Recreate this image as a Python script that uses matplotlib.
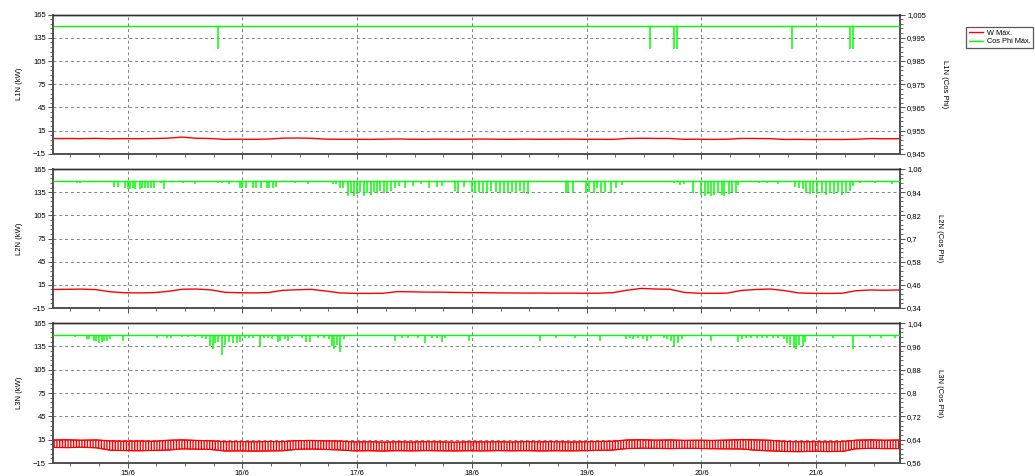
import numpy as np
import matplotlib
matplotlib.use("Agg")
import matplotlib.pyplot as plt
from matplotlib.ticker import AutoMinorLocator, MultipleLocator

plt.rcParams.update({"font.family": ["Liberation Sans", "DejaVu Sans"], "font.size": 5.5})

# time axis: days since 15/6 00:00
T_START, T_END = -0.65, 6.73
day_ticks = [0, 1, 2, 3, 4, 5, 6]
day_labels = ["15/6", "16/6", "17/6", "18/6", "19/6", "20/6", "21/6"]

# red series sampled every 3 h from T_START
t_grid = T_START + 0.125 * np.arange(60)

w_l1 = [4.9, 5.0, 4.8, 5.2, 4.6, 4.9, 4.7, 5.0, 5.4, 6.8, 5.3, 5.0, 3.8, 4.1, 3.9,
        4.3, 5.4, 5.6, 5.3, 4.2, 3.9, 4.0, 3.8, 4.1, 4.4, 4.0, 3.9, 4.2, 3.9, 4.1,
        4.3, 4.0, 3.9, 4.2, 3.9, 4.0, 4.2, 3.9, 4.0, 3.8, 5.0, 5.3, 5.1, 5.0, 3.9,
        4.1, 3.8, 4.0, 5.1, 5.0, 4.8, 3.7, 3.9, 3.6, 3.8, 3.7, 4.0, 4.9, 4.6, 4.8]

w_l2 = [9.0, 9.2, 9.5, 8.8, 6.0, 4.8, 4.6, 4.9, 6.5, 9.3, 9.6, 8.5, 5.3, 4.8, 4.6,
        5.0, 7.9, 8.6, 9.2, 7.0, 4.6, 4.0, 3.9, 4.1, 6.2, 6.0, 5.6, 5.5, 5.2, 5.0,
        4.9, 4.6, 4.5, 4.3, 4.4, 4.2, 4.3, 4.1, 4.2, 4.8, 8.0, 10.4, 9.6, 9.3, 5.2,
        4.2, 4.0, 4.3, 7.8, 9.0, 9.6, 7.5, 4.5, 4.0, 3.9, 4.1, 7.5, 8.3, 8.0, 8.4]

# L3N power switches fast: upper / lower envelope
w_l3_hi = [14.6, 14.9, 14.3, 14.7, 13.4, 13.0, 13.3, 12.9, 14.2, 14.8, 14.0, 13.6,
           12.4, 12.6, 12.2, 12.7, 12.5, 13.8, 14.0, 13.5, 13.2, 12.1, 12.4, 11.9,
           12.3, 12.0, 12.5, 12.2, 11.8, 12.3, 12.1, 12.4, 12.0, 12.6, 12.2, 12.5,
           12.0, 12.3, 12.7, 13.0, 14.6, 15.0, 14.4, 14.7, 14.1, 14.3, 14.0, 14.5,
           15.2, 14.8, 14.2, 12.8, 12.3, 12.5, 12.2, 12.6, 14.4, 14.8, 14.3, 14.6]
w_l3_lo = [5.0, 4.8, 5.2, 4.6, 1.4, 1.0, 0.8, 1.2, 1.6, 3.2, 2.8, 2.4, 0.4, 0.6, 0.2,
           0.5, 0.8, 2.6, 2.9, 2.4, 1.8, 0.6, 0.8, 0.4, 0.9, 0.6, 1.0, 0.7, 0.5, 0.8,
           0.6, 1.0, 0.7, 0.9, 0.5, 0.8, 0.6, 0.9, 1.2, 1.6, 3.6, 4.0, 3.8, 3.5, 3.9,
           3.7, 3.4, 3.2, 3.0, 1.4, 0.6, -0.2, -0.4, 0.0, -0.3, -0.1, 3.4, 3.8, 3.5, 3.6]

# cos phi: steady at 1.0 with short dips (time in days, dip value)
cos_base = 1.0
dip1_t = [0.788, 4.552, 4.764, 4.783, 5.788, 6.297, 6.316]
dip1_v = [0.990, 0.990, 0.990, 0.990, 0.990, 0.990, 0.990]

dip2_t = [-0.439, -0.415, -0.118, -0.085, -0.024, 0.000, 0.024, 0.047, 0.066, 0.104,
          0.127, 0.151, 0.175, 0.208, 0.231, 0.292, 0.316, 0.481, 0.585, 0.788,
          0.821, 0.882, 0.976, 1.000, 1.028, 1.094, 1.118, 1.165, 1.212, 1.236,
          1.269, 1.297, 1.458, 1.575, 1.792, 1.816, 1.849, 1.877, 1.920, 1.943,
          1.976, 2.000, 2.028, 2.061, 2.085, 2.118, 2.146, 2.170, 2.203, 2.236,
          2.264, 2.297, 2.330, 2.368, 2.415, 2.486, 2.557, 2.627, 2.698, 2.736,
          2.849, 2.877, 2.934, 3.005, 3.028, 3.061, 3.099, 3.132, 3.170, 3.208,
          3.245, 3.278, 3.311, 3.349, 3.387, 3.420, 3.453, 3.491, 3.821, 3.840,
          3.877, 3.995, 4.019, 4.066, 4.090, 4.123, 4.160, 4.208, 4.255, 4.311,
          4.764, 4.811, 4.844, 4.925, 5.000, 5.033, 5.057, 5.080, 5.113, 5.142,
          5.175, 5.198, 5.236, 5.269, 5.302, 5.316, 5.505, 5.575, 5.670, 5.811,
          5.849, 5.882, 5.915, 5.943, 5.976, 6.009, 6.047, 6.085, 6.118, 6.151,
          6.189, 6.226, 6.259, 6.292, 6.321, 6.377, 6.509, 6.660]
dip2_v = [0.986, 0.986, 0.969, 0.969, 0.960, 0.957, 0.957, 0.960, 0.957, 0.955,
          0.960, 0.962, 0.960, 0.962, 0.964, 0.986, 0.958, 0.986, 0.981, 0.986,
          0.986, 0.981, 0.962, 0.960, 0.964, 0.960, 0.960, 0.962, 0.960, 0.962,
          0.964, 0.965, 0.986, 0.981, 0.981, 0.981, 0.962, 0.960, 0.920, 0.935,
          0.918, 0.930, 0.940, 0.920, 0.935, 0.925, 0.940, 0.935, 0.945, 0.935,
          0.940, 0.945, 0.960, 0.970, 0.962, 0.970, 0.981, 0.960, 0.965, 0.970,
          0.945, 0.943, 0.965, 0.940, 0.935, 0.943, 0.938, 0.940, 0.945, 0.940,
          0.935, 0.940, 0.935, 0.940, 0.935, 0.945, 0.935, 0.930, 0.935, 0.940,
          0.935, 0.935, 0.940, 0.935, 0.960, 0.935, 0.940, 0.935, 0.960, 0.975,
          0.986, 0.975, 0.981, 0.935, 0.925, 0.918, 0.930, 0.918, 0.925, 0.935,
          0.925, 0.918, 0.930, 0.940, 0.935, 0.975, 0.986, 0.986, 0.981, 0.965,
          0.960, 0.955, 0.935, 0.930, 0.935, 0.930, 0.935, 0.928, 0.935, 0.930,
          0.940, 0.925, 0.935, 0.945, 0.970, 0.986, 0.986, 0.981]

dip3_t = [-0.462, -0.358, -0.340, -0.297, -0.274, -0.250, -0.226, -0.203, -0.179, -0.156,
          -0.038, 0.255, 0.340, 0.377, 0.472, 0.528, 0.585, 0.646, 0.684, 0.717,
          0.741, 0.764, 0.788, 0.821, 0.849, 0.882, 0.915, 0.953, 0.976, 1.024,
          1.057, 1.094, 1.151, 1.189, 1.226, 1.259, 1.307, 1.330, 1.368, 1.401,
          1.434, 1.519, 1.557, 1.590, 1.660, 1.708, 1.755, 1.778, 1.802, 1.825,
          1.849, 1.882, 2.330, 2.392, 2.439, 2.533, 2.594, 2.651, 2.698, 2.736,
          2.769, 2.972, 3.594, 3.736, 3.901, 4.113, 4.340, 4.373, 4.406, 4.443,
          4.491, 4.528, 4.561, 4.670, 4.703, 4.736, 4.764, 4.797, 4.830, 5.080,
          5.316, 5.349, 5.387, 5.434, 5.481, 5.528, 5.575, 5.623, 5.670, 5.717,
          5.745, 5.774, 5.802, 5.821, 5.849, 5.882, 5.906, 6.142, 6.321, 6.472,
          6.566, 6.684]
dip3_v = [0.991, 0.985, 0.985, 0.980, 0.977, 0.972, 0.975, 0.980, 0.978, 0.985,
          0.977, 0.988, 0.988, 0.990, 0.991, 0.991, 0.991, 0.990, 0.985, 0.962,
          0.952, 0.970, 0.975, 0.930, 0.965, 0.975, 0.970, 0.970, 0.975, 0.990,
          0.990, 0.988, 0.960, 0.990, 0.988, 0.985, 0.975, 0.980, 0.985, 0.980,
          0.988, 0.990, 0.975, 0.975, 0.990, 0.990, 0.985, 0.960, 0.950, 0.965,
          0.940, 0.985, 0.977, 0.990, 0.990, 0.990, 0.972, 0.990, 0.990, 0.975,
          0.990, 0.978, 0.978, 0.990, 0.990, 0.978, 0.985, 0.990, 0.985, 0.988,
          0.985, 0.978, 0.990, 0.990, 0.985, 0.978, 0.962, 0.970, 0.985, 0.978,
          0.975, 0.985, 0.990, 0.990, 0.990, 0.990, 0.990, 0.990, 0.988, 0.985,
          0.970, 0.965, 0.955, 0.950, 0.965, 0.960, 0.975, 0.990, 0.950, 0.990,
          0.990, 0.990]

kw_ticks = [-15, 15, 45, 75, 105, 135, 165]
cos1_ticks = [0.945, 0.955, 0.965, 0.975, 0.985, 0.995, 1.005]
cos2_ticks = [0.34, 0.46, 0.58, 0.70, 0.82, 0.94, 1.06]
cos3_ticks = [0.56, 0.64, 0.72, 0.80, 0.88, 0.96, 1.04]
cos1_labels = ["0,945", "0,955", "0,965", "0,975", "0,985", "0,995", "1,005"]
cos2_labels = ["0,34", "0,46", "0,58", "0,7", "0,82", "0,94", "1,06"]
cos3_labels = ["0,56", "0,64", "0,72", "0,8", "0,88", "0,96", "1,04"]

RED = "#ff0000"
GREEN = "#00ff00"
SPINE = "#505050"

fig = plt.figure(figsize=(10.35, 4.76), dpi=100)
boxes = [(0.0512, 0.6765, 0.8184, 0.293),
         (0.0512, 0.3529, 0.8184, 0.292),
         (0.0512, 0.0273, 0.8184, 0.294)]
panels = [
    ("L1N", w_l1, None, dip1_t, dip1_v, cos1_ticks, cos1_labels),
    ("L2N", w_l2, None, dip2_t, dip2_v, cos2_ticks, cos2_labels),
    ("L3N", w_l3_hi, w_l3_lo, dip3_t, dip3_v, cos3_ticks, cos3_labels),
]

for i, (box, (name, w, w_lo, dt, dv, cticks, clabels)) in enumerate(zip(boxes, panels)):
    ax = fig.add_axes(box)
    if w_lo is None:
        ax.plot(t_grid, w, color=RED, lw=1.0, zorder=3)
    else:
        ax.fill_between(t_grid, w_lo, w, facecolor="none", edgecolor=RED,
                        hatch="||||||", lw=0.8, zorder=3)
        ax.plot(t_grid, w, color=RED, lw=0.8, zorder=3)
        ax.plot(t_grid, w_lo, color=RED, lw=0.8, zorder=3)
    ax.set_xlim(T_START, T_END)
    ax.set_ylim(kw_ticks[0], kw_ticks[-1])
    ax.set_yticks(kw_ticks)
    ax.yaxis.set_minor_locator(AutoMinorLocator(5))
    ax.set_xticks(day_ticks)
    ax.xaxis.set_minor_locator(MultipleLocator(0.25))
    ax.set_xticklabels(day_labels if i == 2 else [])
    ax.grid(True, which="major", color="#808080", ls=(0, (3, 3)), lw=0.7)
    ax.set_ylabel(f"{name} (kW)", labelpad=7)
    ax.tick_params(which="major", length=3.5, width=0.7, colors=SPINE, labelcolor="black", pad=1.5)
    ax.tick_params(which="minor", length=2, width=0.6, colors=SPINE)

    ax2 = ax.twinx()
    ax2.hlines(cos_base, T_START, T_END, color=GREEN, lw=1.0, zorder=3)
    ax2.vlines(dt, dv, cos_base, color=GREEN, lw=1.1, zorder=3)
    ax2.set_ylim(cticks[0], cticks[-1])
    ax2.set_yticks(cticks)
    ax2.set_yticklabels(clabels)
    ax2.yaxis.set_minor_locator(AutoMinorLocator(5))
    ax2.set_ylabel(f"{name} (Cos Phi)", rotation=270, labelpad=13, va="center")
    ax2.tick_params(which="major", length=3.5, width=0.7, colors=SPINE, labelcolor="black", pad=1.5)
    ax2.tick_params(which="minor", length=2, width=0.6, colors=SPINE)

    for a in (ax, ax2):
        for side in ("left", "right", "bottom"):
            a.spines[side].set_color(SPINE)
            a.spines[side].set_linewidth(1.2)
        a.spines["top"].set_color("#303030")
        a.spines["top"].set_linewidth(1.0)

handles = [plt.Line2D([], [], color=RED, lw=1.0), plt.Line2D([], [], color=GREEN, lw=1.0)]
leg = fig.legend(handles, ["W Máx.", "Cos Phi Máx."], loc="upper left",
                 bbox_to_anchor=(966 / 1035, 1 - 27 / 476), frameon=True, fancybox=False,
                 fontsize=5.3, handlelength=2.0, borderpad=0.35, labelspacing=0.2,
                 handletextpad=0.5, borderaxespad=0)
leg.get_frame().set_edgecolor("#303030")
leg.get_frame().set_linewidth(0.9)

fig.savefig("out.png", dpi=100)
